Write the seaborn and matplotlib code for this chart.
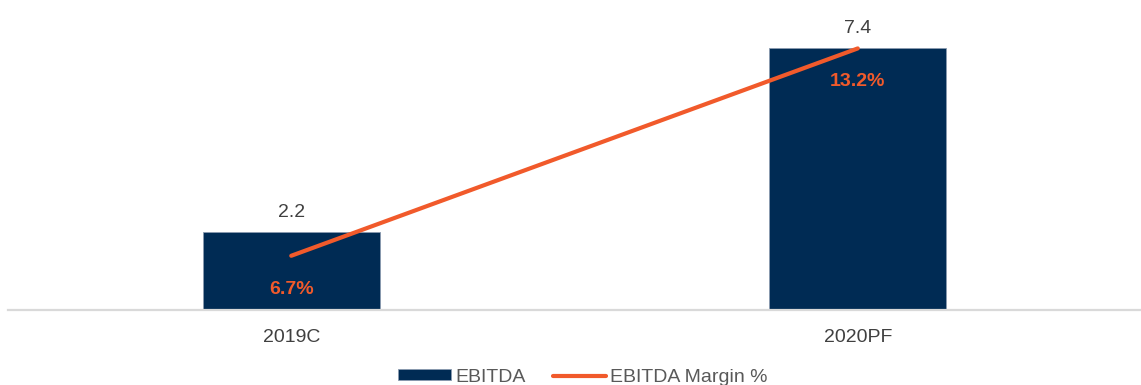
import matplotlib
matplotlib.use("Agg")
import matplotlib.pyplot as plt
import seaborn as sns
import numpy as np
import pandas as pd

categories = ["2019C", "2020PF"]
ebitda = [2.2, 7.4]
margin = [6.7, 13.2]
ebitda_labels = ["2.2", "7.4"]
margin_labels = ["6.7%", "13.2%"]

NAVY = "#002B54"
ORANGE = "#F15A2B"
TXT = "#404040"

sns.set_theme(style="white")
plt.rcParams["font.family"] = ["Liberation Sans", "DejaVu Sans"]

fig = plt.figure(figsize=(11.41, 3.85), dpi=100)
ax = fig.add_axes([8 / 1141, 75 / 385, 1 - 8 / 1141, 319 / 385])

df = pd.DataFrame({"cat": categories, "val": ebitda})
sns.barplot(data=df, x="cat", y="val", ax=ax, color=NAVY, width=0.312,
            saturation=1, edgecolor="#8A9BB0", linewidth=0.6, label="EBITDA")
if ax.get_legend() is not None:
    ax.get_legend().remove()
ax.set_xlim(-0.5, 1.5)
ax.set_ylim(0, 9)
ax.bar_label(ax.containers[0], labels=ebitda_labels, padding=8,
             fontsize=14, color=TXT)

ax2 = ax.twinx()
xpos = np.arange(len(categories))
sns.lineplot(x=xpos, y=margin, ax=ax2, color=ORANGE, linewidth=3.0,
             label="EBITDA Margin %", legend=False)
if ax2.get_legend() is not None:
    ax2.get_legend().remove()
ax2.set_ylim(5, 15)
for x, y, t in zip(xpos, margin, margin_labels):
    ax2.annotate(t, (x, y), xytext=(0, -24), textcoords="offset points",
                 ha="center", va="center", fontsize=14, fontweight="bold",
                 color=ORANGE)

for a in (ax, ax2):
    a.set_yticks([])
    a.set_ylabel("")
    for s in ("top", "right", "left"):
        a.spines[s].set_visible(False)
ax2.spines["bottom"].set_visible(False)
ax.spines["bottom"].set_color("#D9D9D9")
ax.spines["bottom"].set_linewidth(1.6)
ax.set_xlabel("")
ax.tick_params(axis="x", length=0, pad=14, labelsize=14, labelcolor=TXT)

h1, l1 = ax.get_legend_handles_labels()
h2, l2 = ax2.get_legend_handles_labels()
leg = fig.legend(h1 + h2, l1 + l2, loc="center", bbox_to_anchor=(0.511, 0.02),
                 ncol=2, frameon=False, fontsize=14, handlelength=2.7,
                 handleheight=0.5, handletextpad=0.25, columnspacing=1.4)
for t in leg.get_texts():
    t.set_color("#595959")

fig.savefig("out.png", dpi=100)
